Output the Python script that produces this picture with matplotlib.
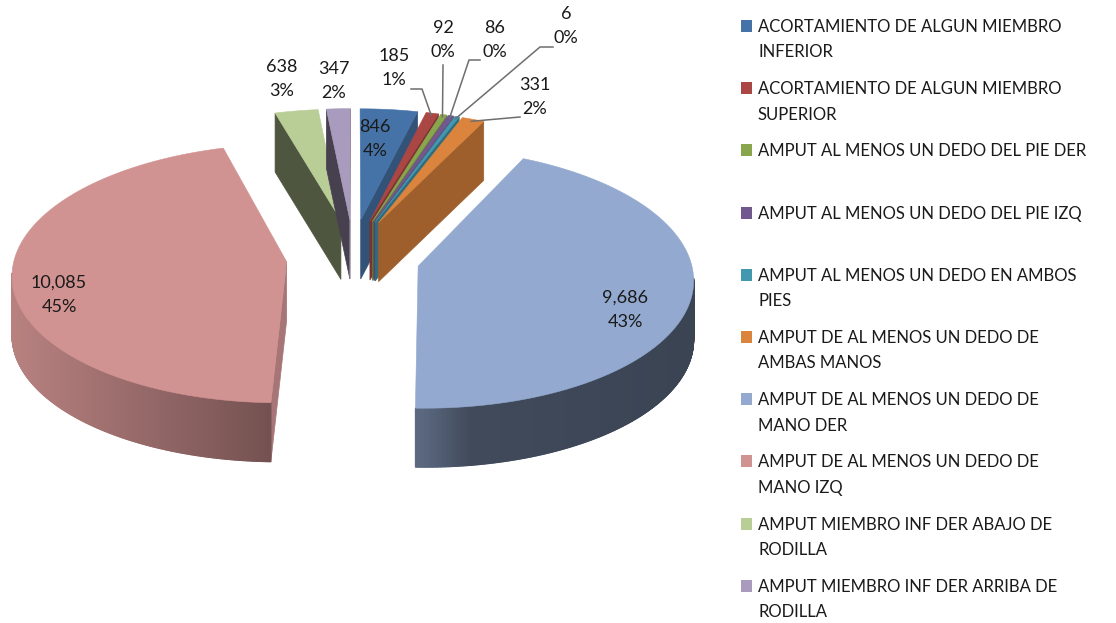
import numpy as np
import matplotlib
matplotlib.use('Agg')
import matplotlib.pyplot as plt
from matplotlib.collections import PolyCollection
from matplotlib.colors import to_rgb

categories = [
    'ACORTAMIENTO DE ALGUN MIEMBRO\nINFERIOR',
    'ACORTAMIENTO DE ALGUN MIEMBRO\nSUPERIOR',
    'AMPUT AL MENOS UN DEDO DEL PIE DER',
    'AMPUT AL MENOS UN DEDO DEL PIE IZQ',
    'AMPUT AL MENOS UN DEDO EN AMBOS\nPIES',
    'AMPUT DE AL MENOS UN DEDO DE\nAMBAS MANOS',
    'AMPUT DE AL MENOS UN DEDO DE\nMANO DER',
    'AMPUT DE AL MENOS UN DEDO DE\nMANO IZQ',
    'AMPUT MIEMBRO INF DER ABAJO DE\nRODILLA',
    'AMPUT MIEMBRO INF DER ARRIBA DE\nRODILLA',
]
values = [846, 185, 92, 86, 6, 331, 9686, 10085, 638, 347]
value_labels = ['846', '185', '92', '86', '6', '331', '9,686', '10,085', '638', '347']
pct_labels = ['4%', '1%', '0%', '0%', '0%', '2%', '43%', '45%', '3%', '2%']
colors = ['#4572A7', '#AA4643', '#89A54E', '#71588F', '#4198AF',
          '#DB843D', '#93A9CF', '#D19392', '#B9CD96', '#A99BBD']

# label centres in pixels, and the elbow of the leader (None = no leader)
label_pos = [(375, 139), (394, 68), (443, 40), (495, 40), (566, 26),
             (535, 97), (625, 310), (59, 295), (282, 79), (334, 81)]
elbows = [None, [(411, 89), (422, 89)], [(443, 65)], [(480, 60), (469, 60)],
          [(553, 47), (540, 47)], [(520, 117)], None, None, None, None]

# projection of the pie, fitted by eye
CX, CY = 353, 257
A, B, K = 272, 127.5, 0.09
EX, EY = 0.245, 0.30
DEPTH = 59
MIN_SWEEP = 1.0  # degrees, the thinnest slices stay visible


def project(x, y):
    w = 1 + K * y
    return CX + A * x / w, CY - B * y / w


def rim_shade(x):
    return np.interp(x, [12, 275, 420, 470, 695], [.88, .55, .62, .44, .40])


def dark(color, s):
    return tuple(np.array(to_rgb(color)) * s)


def main():
    fig = plt.figure(figsize=(11.16, 6.23), dpi=100)
    ax = fig.add_axes([0, 0, 1, 1])
    ax.set_xlim(0, 1116)
    ax.set_ylim(623, 0)
    ax.axis('off')
    plt.rcParams['font.family'] = ['Lato', 'DejaVu Sans']

    sweep = np.maximum(np.array(values) / sum(values) * 360, MIN_SWEEP)
    edges = np.radians(np.r_[0, np.cumsum(sweep)] * 360 / sweep.sum())
    for i, col in enumerate(colors):
        t0, t1 = edges[i], edges[i + 1]
        mid = (t0 + t1) / 2
        ox, oy = EX * np.sin(mid), EY * np.cos(mid)
        ts = np.linspace(t0, t1, max(2, int(np.degrees(t1 - t0) * 4) + 2))
        px, py = project(ox + np.sin(ts), oy + np.cos(ts))
        ax_, ay_ = project(ox, oy)

        # cut faces, only those turned to the viewer
        if np.sin(t0) < 0:
            s = np.interp(np.degrees(t0), [181, 344, 354], [.8, .42, .42])
            q = [(ax_, ay_), (px[0], py[0]), (px[0], py[0] + DEPTH), (ax_, ay_ + DEPTH)]
            ax.fill(*zip(*q), color=dark(col, s), lw=.5, zorder=i * 3 + 1)
        if np.sin(t1) > 0:
            q = [(ax_, ay_), (px[-1], py[-1]), (px[-1], py[-1] + DEPTH), (ax_, ay_ + DEPTH)]
            ax.fill(*zip(*q), color=dark(col, .72), lw=.5, zorder=i * 3 + 1)

        # outer wall, one quad per step
        quads, shades = [], []
        for j in range(len(ts) - 1):
            if np.cos((ts[j] + ts[j + 1]) / 2) < -K:
                quads.append([(px[j], py[j]), (px[j + 1], py[j + 1]),
                              (px[j + 1], py[j + 1] + DEPTH), (px[j], py[j] + DEPTH)])
                shades.append(dark(col, rim_shade((px[j] + px[j + 1]) / 2)))
        if quads:
            ax.add_collection(PolyCollection(quads, facecolors=shades, edgecolors=shades,
                                             linewidths=.8, zorder=i * 3 + 2))

        # top face
        ax.fill(np.r_[ax_, px], np.r_[ay_, py], color=col, lw=.4, zorder=i * 3 + 3)

        # leader to the middle of the rim
        if elbows[i]:
            ex, ey = project(ox + np.sin(mid) * .98, oy + np.cos(mid) * .98)
            pts = elbows[i] + [(ex, ey)]
            ax.plot(*zip(*pts), color='#6e6e6e', lw=1.1, zorder=40)

        ax.text(label_pos[i][0], label_pos[i][1], value_labels[i] + '\n' + pct_labels[i],
                ha='center', va='center', fontsize=13, linespacing=1.65,
                color='#1a1a1a', zorder=50)

    # legend, drawn by hand because rows keep a fixed pitch
    for i, (name, col) in enumerate(zip(categories, colors)):
        y = 26 + i * 62.2
        ax.fill([741, 752, 752, 741], [y - 6, y - 6, y + 6, y + 6], color=col, lw=0)
        ax.text(758, y - 7, name, ha='left', va='top', fontsize=12,
                linespacing=1.72, color='#1a1a1a')

    plt.savefig('out.png', dpi=100)


if __name__ == '__main__':
    main()
